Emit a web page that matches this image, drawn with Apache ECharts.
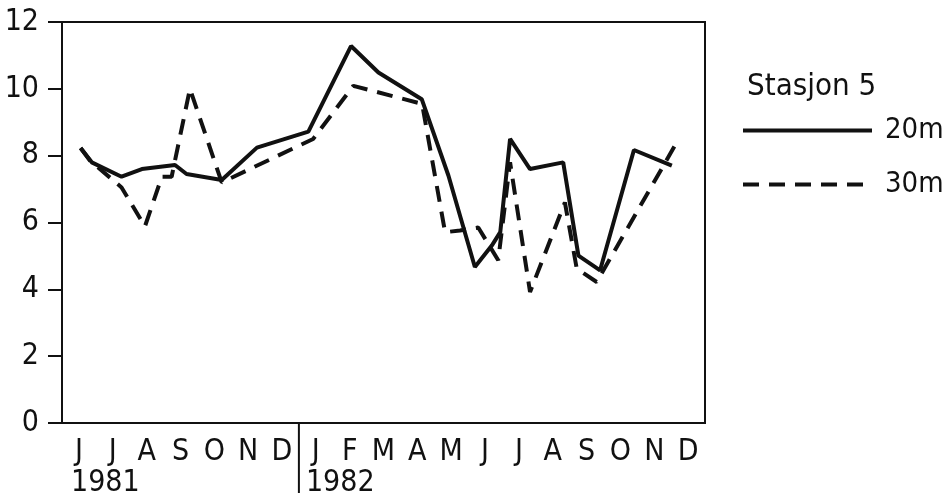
<!DOCTYPE html>
<html>
<head>
<meta charset="utf-8">
<script src="https://cdn.jsdelivr.net/npm/echarts@6/dist/echarts.min.js"></script>
<style>
html,body{margin:0;padding:0;background:#fff;}
#main{width:952px;height:502px;}
</style>
</head>
<body>
<div id="main"></div>
<script>
// month letters, Jun 1981 .. Dec 1982
var monthLabels = ['J','J','A','S','O','N','D','J','F','M','A','M','J','J','A','S','O','N','D'];
var yearLabels = ['1981','1982'];
// x = months since 1 June 1981
var months20 = [0.55,0.88,1.76,2.36,3.34,3.68,4.72,5.76,7.28,8.54,9.35,10.63,11.42,12.2,12.7,12.95,13.24,13.83,14.81,15.26,15.9,16.9,18.02];
var temp20   = [8.23,7.8,7.37,7.6,7.72,7.45,7.27,8.24,8.72,11.28,10.49,9.69,7.4,4.67,5.31,5.71,8.5,7.6,7.8,5.01,4.57,8.17,7.7];
var months30 = [0.55,0.83,1.76,2.45,2.95,3.24,3.78,4.72,7.42,8.61,10.64,11.32,11.76,12.3,12.89,13.24,13.83,14.86,15.21,15.8,18.11];
var temp30   = [8.23,7.85,7.05,5.88,7.37,7.37,10.0,7.2,8.5,10.09,9.55,5.71,5.76,5.85,4.87,7.8,3.92,6.6,4.62,4.22,8.3];

var font = '"DejaVu Sans Condensed","DejaVu Sans",sans-serif';

function pairs(xs, ys){
    var out = [];
    for (var i = 0; i < xs.length; i++) out.push([xs[i], ys[i]]);
    return out;
}

var chart = echarts.init(document.getElementById('main'));
var option = {
    animation: false,
    title: {
        text: 'Stasjon 5',
        left: 742, top: 66,
        textStyle: {fontFamily: font, fontSize: 31, fontWeight: 'normal', color: '#111'}
    },
    legend: {
        orient: 'vertical',
        left: 741, top: 116,
        itemWidth: 129, itemHeight: 28, itemGap: 25,
        padding: 0,
        itemStyle: {opacity: 0},
        lineStyle: {width: 4},
        textStyle: {fontFamily: font, fontSize: 29, color: '#111', padding: [0,0,0,8]},
        data: ['20m','30m']
    },
    grid: {
        left: 62, right: 247, top: 22, bottom: 79,
        outerBoundsMode: 'none',
        show: true, borderColor: '#111', borderWidth: 2
    },
    xAxis: [
        {type: 'value', min: 0, max: 19, show: false},
        {
            type: 'category', data: monthLabels, boundaryGap: true, position: 'bottom',
            axisLine: {lineStyle: {color: '#111', width: 2}},
            axisTick: {length: 15, interval: 0, lineStyle: {color: '#111', width: 2}},
            axisLabel: {fontFamily: font, fontSize: 30, color: '#111', margin: 14, interval: 0}
        }
    ],
    yAxis: {
        type: 'value', min: 0, max: 12, interval: 2,
        axisLine: {show: true, lineStyle: {color: '#111', width: 2}},
        axisTick: {show: true, length: 14, lineStyle: {color: '#111', width: 2}},
        axisLabel: {fontFamily: font, fontSize: 30, color: '#111', margin: 23},
        splitLine: {show: false}
    },
    series: [
        {
            name: '20m', type: 'line', xAxisIndex: 0, symbol: 'none',
            lineStyle: {color: '#111', width: 4},
            itemStyle: {color: '#111'},
            data: pairs(months20, temp20)
        },
        {
            name: '30m', type: 'line', xAxisIndex: 0, symbol: 'none',
            lineStyle: {color: '#111', width: 4, type: [16, 10]},
            itemStyle: {color: '#111'},
            data: pairs(months30, temp30)
        }
    ]
};
chart.setOption(option);

// year labels and the long divider tick between the years
var x0 = chart.convertToPixel({xAxisIndex: 0}, 0);
var x7 = chart.convertToPixel({xAxisIndex: 0}, 7);
var yBase = chart.convertToPixel({yAxisIndex: 0}, 0);
chart.setOption({
    graphic: [
        {type: 'line', shape: {x1: x7, y1: yBase, x2: x7, y2: yBase + 70}, style: {stroke: '#111', lineWidth: 2}},
        {type: 'text', left: x0 + 9, top: yBase + 45, style: {text: yearLabels[0], font: '30px ' + font, fill: '#111'}},
        {type: 'text', left: x7 + 7, top: yBase + 45, style: {text: yearLabels[1], font: '30px ' + font, fill: '#111'}}
    ]
});
</script>
</body>
</html>
